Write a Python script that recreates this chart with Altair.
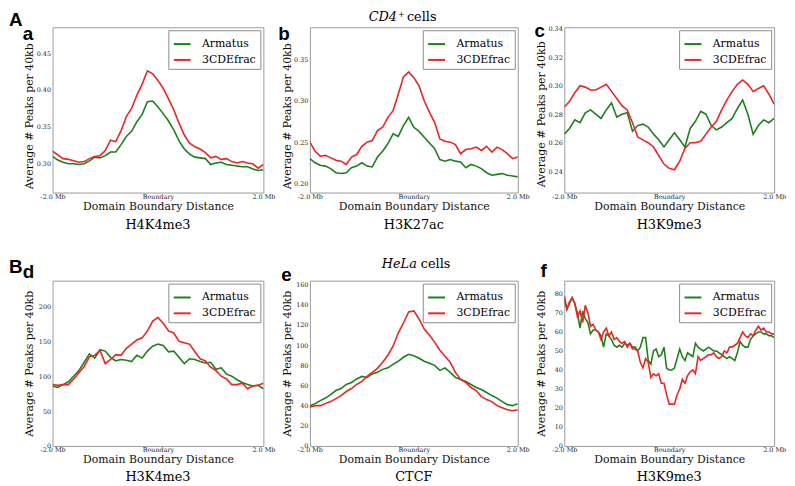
import altair as alt
import pandas as pd

# ---------------- data ----------------
x41 = [round(-2 + 0.1 * i, 3) for i in range(41)]
x81 = [round(-2 + 0.05 * i, 3) for i in range(81)]

a_armatus = [0.310, 0.305, 0.302, 0.300, 0.300, 0.299, 0.300, 0.304, 0.309, 0.308, 0.311,
             0.316, 0.316, 0.326, 0.337, 0.344, 0.357, 0.367, 0.384, 0.385, 0.377,
             0.368, 0.358, 0.346, 0.331, 0.320, 0.313, 0.309, 0.308, 0.307, 0.299,
             0.301, 0.302, 0.299, 0.298, 0.297, 0.296, 0.296, 0.293, 0.291, 0.292]
a_3cde = [0.317, 0.312, 0.307, 0.306, 0.304, 0.302, 0.303, 0.307, 0.310, 0.311, 0.318,
          0.332, 0.330, 0.345, 0.364, 0.375, 0.393, 0.408, 0.426, 0.422, 0.413,
          0.402, 0.388, 0.373, 0.355, 0.339, 0.328, 0.323, 0.320, 0.315, 0.308,
          0.310, 0.306, 0.307, 0.303, 0.301, 0.303, 0.301, 0.300, 0.294, 0.299]

b_armatus = [0.230, 0.225, 0.222, 0.221, 0.218, 0.213, 0.212, 0.213, 0.219, 0.221, 0.225,
             0.221, 0.220, 0.232, 0.239, 0.248, 0.260, 0.257, 0.270, 0.280, 0.268,
             0.263, 0.256, 0.249, 0.242, 0.229, 0.227, 0.229, 0.227, 0.226, 0.219,
             0.223, 0.221, 0.218, 0.213, 0.210, 0.211, 0.212, 0.210, 0.209, 0.208]
b_3cde = [0.250, 0.239, 0.233, 0.234, 0.231, 0.228, 0.227, 0.223, 0.232, 0.235, 0.245,
          0.250, 0.252, 0.264, 0.268, 0.280, 0.288, 0.308, 0.329, 0.335, 0.328,
          0.318, 0.300, 0.286, 0.274, 0.254, 0.251, 0.250, 0.247, 0.236, 0.241,
          0.242, 0.244, 0.240, 0.245, 0.238, 0.244, 0.241, 0.236, 0.230, 0.232]

c_armatus = [0.266, 0.270, 0.276, 0.274, 0.281, 0.283, 0.280, 0.277, 0.283, 0.288, 0.278,
             0.280, 0.281, 0.268, 0.272, 0.273, 0.271, 0.266, 0.262, 0.257, 0.262,
             0.267, 0.262, 0.257, 0.270, 0.275, 0.282, 0.280, 0.272, 0.269, 0.271,
             0.274, 0.277, 0.284, 0.290, 0.280, 0.266, 0.272, 0.276, 0.274, 0.277]
c_3cde = [0.285, 0.289, 0.295, 0.300, 0.299, 0.297, 0.297, 0.299, 0.301, 0.296, 0.291,
          0.286, 0.283, 0.274, 0.264, 0.262, 0.260, 0.257, 0.251, 0.245, 0.242,
          0.241, 0.247, 0.256, 0.260, 0.260, 0.261, 0.266, 0.271, 0.275, 0.283,
          0.290, 0.296, 0.301, 0.304, 0.301, 0.296, 0.298, 0.300, 0.294, 0.287]

d_armatus = [86, 84, 88, 92, 100, 108, 120, 132, 126, 138, 136,
             127, 122, 124, 123, 121, 130, 126, 136, 143, 146,
             144, 135, 136, 127, 118, 125, 124, 121, 119, 120,
             110, 112, 103, 100, 95, 91, 88, 86, 87, 82]
d_3cde = [88, 87, 88, 88, 96, 105, 114, 128, 130, 137, 118,
          124, 131, 130, 140, 146, 152, 155, 165, 179, 184,
          176, 165, 162, 150, 148, 146, 135, 125, 122, 113,
          108, 100, 96, 88, 88, 90, 82, 86, 87, 90]

e_armatus = [40, 42, 45, 47.5, 51, 55, 57, 61, 63, 66.5, 69,
             68, 71.5, 73, 76, 77.5, 81, 84, 88, 91, 89.5,
             87, 84, 82, 80, 75, 77.5, 73, 68, 66, 64,
             61, 58, 56, 53, 50, 47.5, 44, 41, 40, 42]
e_3cde = [38.6, 40, 40, 42, 44, 47, 50, 54, 57, 61, 64,
          69, 73, 77, 83, 90, 99, 112, 122, 133, 134,
          126, 116, 110, 103, 95, 89, 83, 73, 66, 63,
          58, 55, 49, 46, 44, 40, 38, 36, 35, 36]

f_armatus = [77, 72, 75, 78, 75, 70, 62, 71, 67, 65, 59, 61, 61, 60, 58, 52, 59, 58, 56, 53,
             52, 53, 52, 54, 53, 54, 52, 52, 50, 52, 57, 57, 45, 43, 50, 51, 47, 48, 52, 41,
             40, 40, 41, 46, 51, 47, 45, 49, 48, 47, 54, 52, 51, 50, 51, 52, 51, 50, 50, 49,
             48, 47, 46, 47, 46, 45, 49, 55, 53, 52, 52, 56, 58, 59, 60, 60, 59, 59, 58, 58, 57]
f_3cde = [79, 72, 76, 78, 75, 68, 71, 65, 74, 70, 63, 64, 61, 60, 56, 60, 62, 58, 60, 56,
          57, 55, 54, 55, 52, 54, 51, 51, 50, 44, 41, 46, 44, 36, 38, 37, 38, 33, 33, 27,
          22, 22, 22, 27, 30, 35, 33, 37, 39, 40, 38, 47, 45, 46, 47, 48, 48, 49, 47, 46,
          47, 50, 49, 52, 52, 53, 54, 57, 60, 58, 57, 59, 58, 61, 63, 61, 62, 60, 60, 59, 59]

methods = ["Armatus", "3CDEfrac"]
x_tick_values = [-2, 0, 2]
subtitles = ["H4K4me3", "H3K27ac", "H3K9me3", "H3K4me3", "CTCF", "H3K9me3"]
y_title = "Average # Peaks per 40kb"
x_title = "Domain Boundary Distance"

# ---------------- style ----------------
GREEN = "#1c7f1c"
RED = "#ec2424"
SERIF = "DejaVu Serif"
SANS = "Liberation Sans"


def txt(text, x, y, size, font=SERIF, weight="normal", style="normal",
        align="left", baseline="alphabetic"):
    return alt.Chart(pd.DataFrame({"t": [text]})).mark_text(
        font=font, fontSize=size, fontWeight=weight, fontStyle=style,
        align=align, baseline=baseline, color="black"
    ).encode(text="t:N", x=alt.value(x), y=alt.value(y))


def panel(xs, arm, cde, ydom, yticks, yfmt, w, h, sub, sub_dy, texts, ty_dy):
    df = pd.DataFrame({
        "x": xs + xs,
        "value": arm + cde,
        "method": [methods[0]] * len(arm) + [methods[1]] * len(cde),
    })
    base = alt.Chart(df).mark_line(strokeWidth=1.6, clip=True).encode(
        x=alt.X("x:Q",
                scale=alt.Scale(domain=[-2, 2], nice=False, zero=False),
                axis=alt.Axis(values=x_tick_values,
                              labelExpr="datum.value == 0 ? 'Boundary' : (datum.value < 0 ? '-2.0 Mb' : '2.0 Mb')",
                              labelFlush=False, labelPadding=1, title=x_title,
                              titleY=8, titleBaseline="top")),
        y=alt.Y("value:Q",
                scale=alt.Scale(domain=ydom, nice=False, zero=False),
                axis=alt.Axis(values=yticks, format=yfmt, title=y_title,
                              titleX=-18, titleY=h / 2 + ty_dy)),
        color=alt.Color("method:N",
                        scale=alt.Scale(domain=methods, range=[GREEN, RED]),
                        legend=alt.Legend(title=None, orient="top-right", offset=3,
                                          padding=4, strokeColor="#8a8a8a",
                                          fillColor="white", cornerRadius=0,
                                          labelFont=SERIF, labelFontSize=11,
                                          labelColor="black", symbolType="stroke",
                                          symbolStrokeWidth=2, symbolSize=290,
                                          labelOffset=10, rowPadding=1)),
    )
    g = base.transform_filter(alt.datum.method == methods[0])
    r = base.transform_filter(alt.datum.method == methods[1])
    layers = [g, r, txt(sub, w / 2, h + sub_dy, 13, baseline="middle", align="center")]
    layers += [txt(**t) for t in texts]
    return alt.layer(*layers).properties(width=w, height=h)


H = 167
pa = panel(x41, a_armatus, a_3cde, [0.261, 0.485], [0.30, 0.35, 0.40, 0.45], ".2f",
           213, H, subtitles[0], 33,
           [dict(text="A", x=-44, y=-16, size=19, font=SANS, weight="bold", baseline="top"),
            dict(text="a", x=-30, y=13, size=19, font=SANS, weight="bold")], 6)
pb = panel(x41, b_armatus, b_3cde, [0.189, 0.389], [0.20, 0.25, 0.30, 0.35], ".2f",
           210, H, subtitles[1], 33,
           [dict(text="b", x=-32, y=13, size=19, font=SANS, weight="bold"),
            dict(text="CD4", x=88, y=-16, size=13, style="italic", align="right", baseline="top"),
            dict(text="+", x=89, y=-16, size=8, baseline="top"),
            dict(text="cells", x=98, y=-16, size=13, baseline="top")], 6)
pc = panel(x41, c_armatus, c_3cde, [0.225, 0.341], [0.24, 0.26, 0.28, 0.30, 0.32, 0.34], ".2f",
           212, H, subtitles[2], 33,
           [dict(text="c", x=-30, y=10, size=19, font=SANS, weight="bold")], 4)
pd_ = panel(x41, d_armatus, d_3cde, [0, 237], [0, 50, 100, 150, 200], "d",
            213, H, subtitles[3], 31,
            [dict(text="B", x=-44, y=-8, size=19, font=SANS, weight="bold"),
             dict(text="d", x=-30, y=-3, size=19, font=SANS, weight="bold")], 0)
pe = panel(x41, e_armatus, e_3cde, [0, 164], [0, 20, 40, 60, 80, 100, 120, 140, 160], "d",
           210, H, subtitles[4], 31,
           [dict(text="e", x=-29, y=0, size=19, font=SANS, weight="bold"),
            dict(text="HeLa", x=108, y=-13, size=13, style="italic", align="right"),
            dict(text="cells", x=112, y=-13, size=13)], 0)
pf = panel(x81, f_armatus, f_3cde, [0, 87], [0, 10, 20, 30, 40, 50, 60, 70, 80], "d",
           212, H, subtitles[5], 31,
           [dict(text="f", x=-24, y=-4, size=19, font=SANS, weight="bold")], 0)

chart = alt.concat(pa, pb, pc, pd_, pe, pf, columns=3,
                   spacing={"row": 89, "column": 47}, bounds="flush").resolve_scale(
    color="independent"
).properties(padding=0, background="white").configure_view(
    stroke="#9a9a9a", strokeWidth=1, fill="white"
).configure_axis(
    grid=False, domain=False, ticks=False,
    labelFont=SERIF, labelFontSize=6.5, labelColor="#222", labelPadding=2,
    titleFont=SERIF, titleFontSize=11, titleFontWeight="normal", titleColor="#111",
)

chart.save("out.html", embed_options={"renderer": "svg", "actions": False})
